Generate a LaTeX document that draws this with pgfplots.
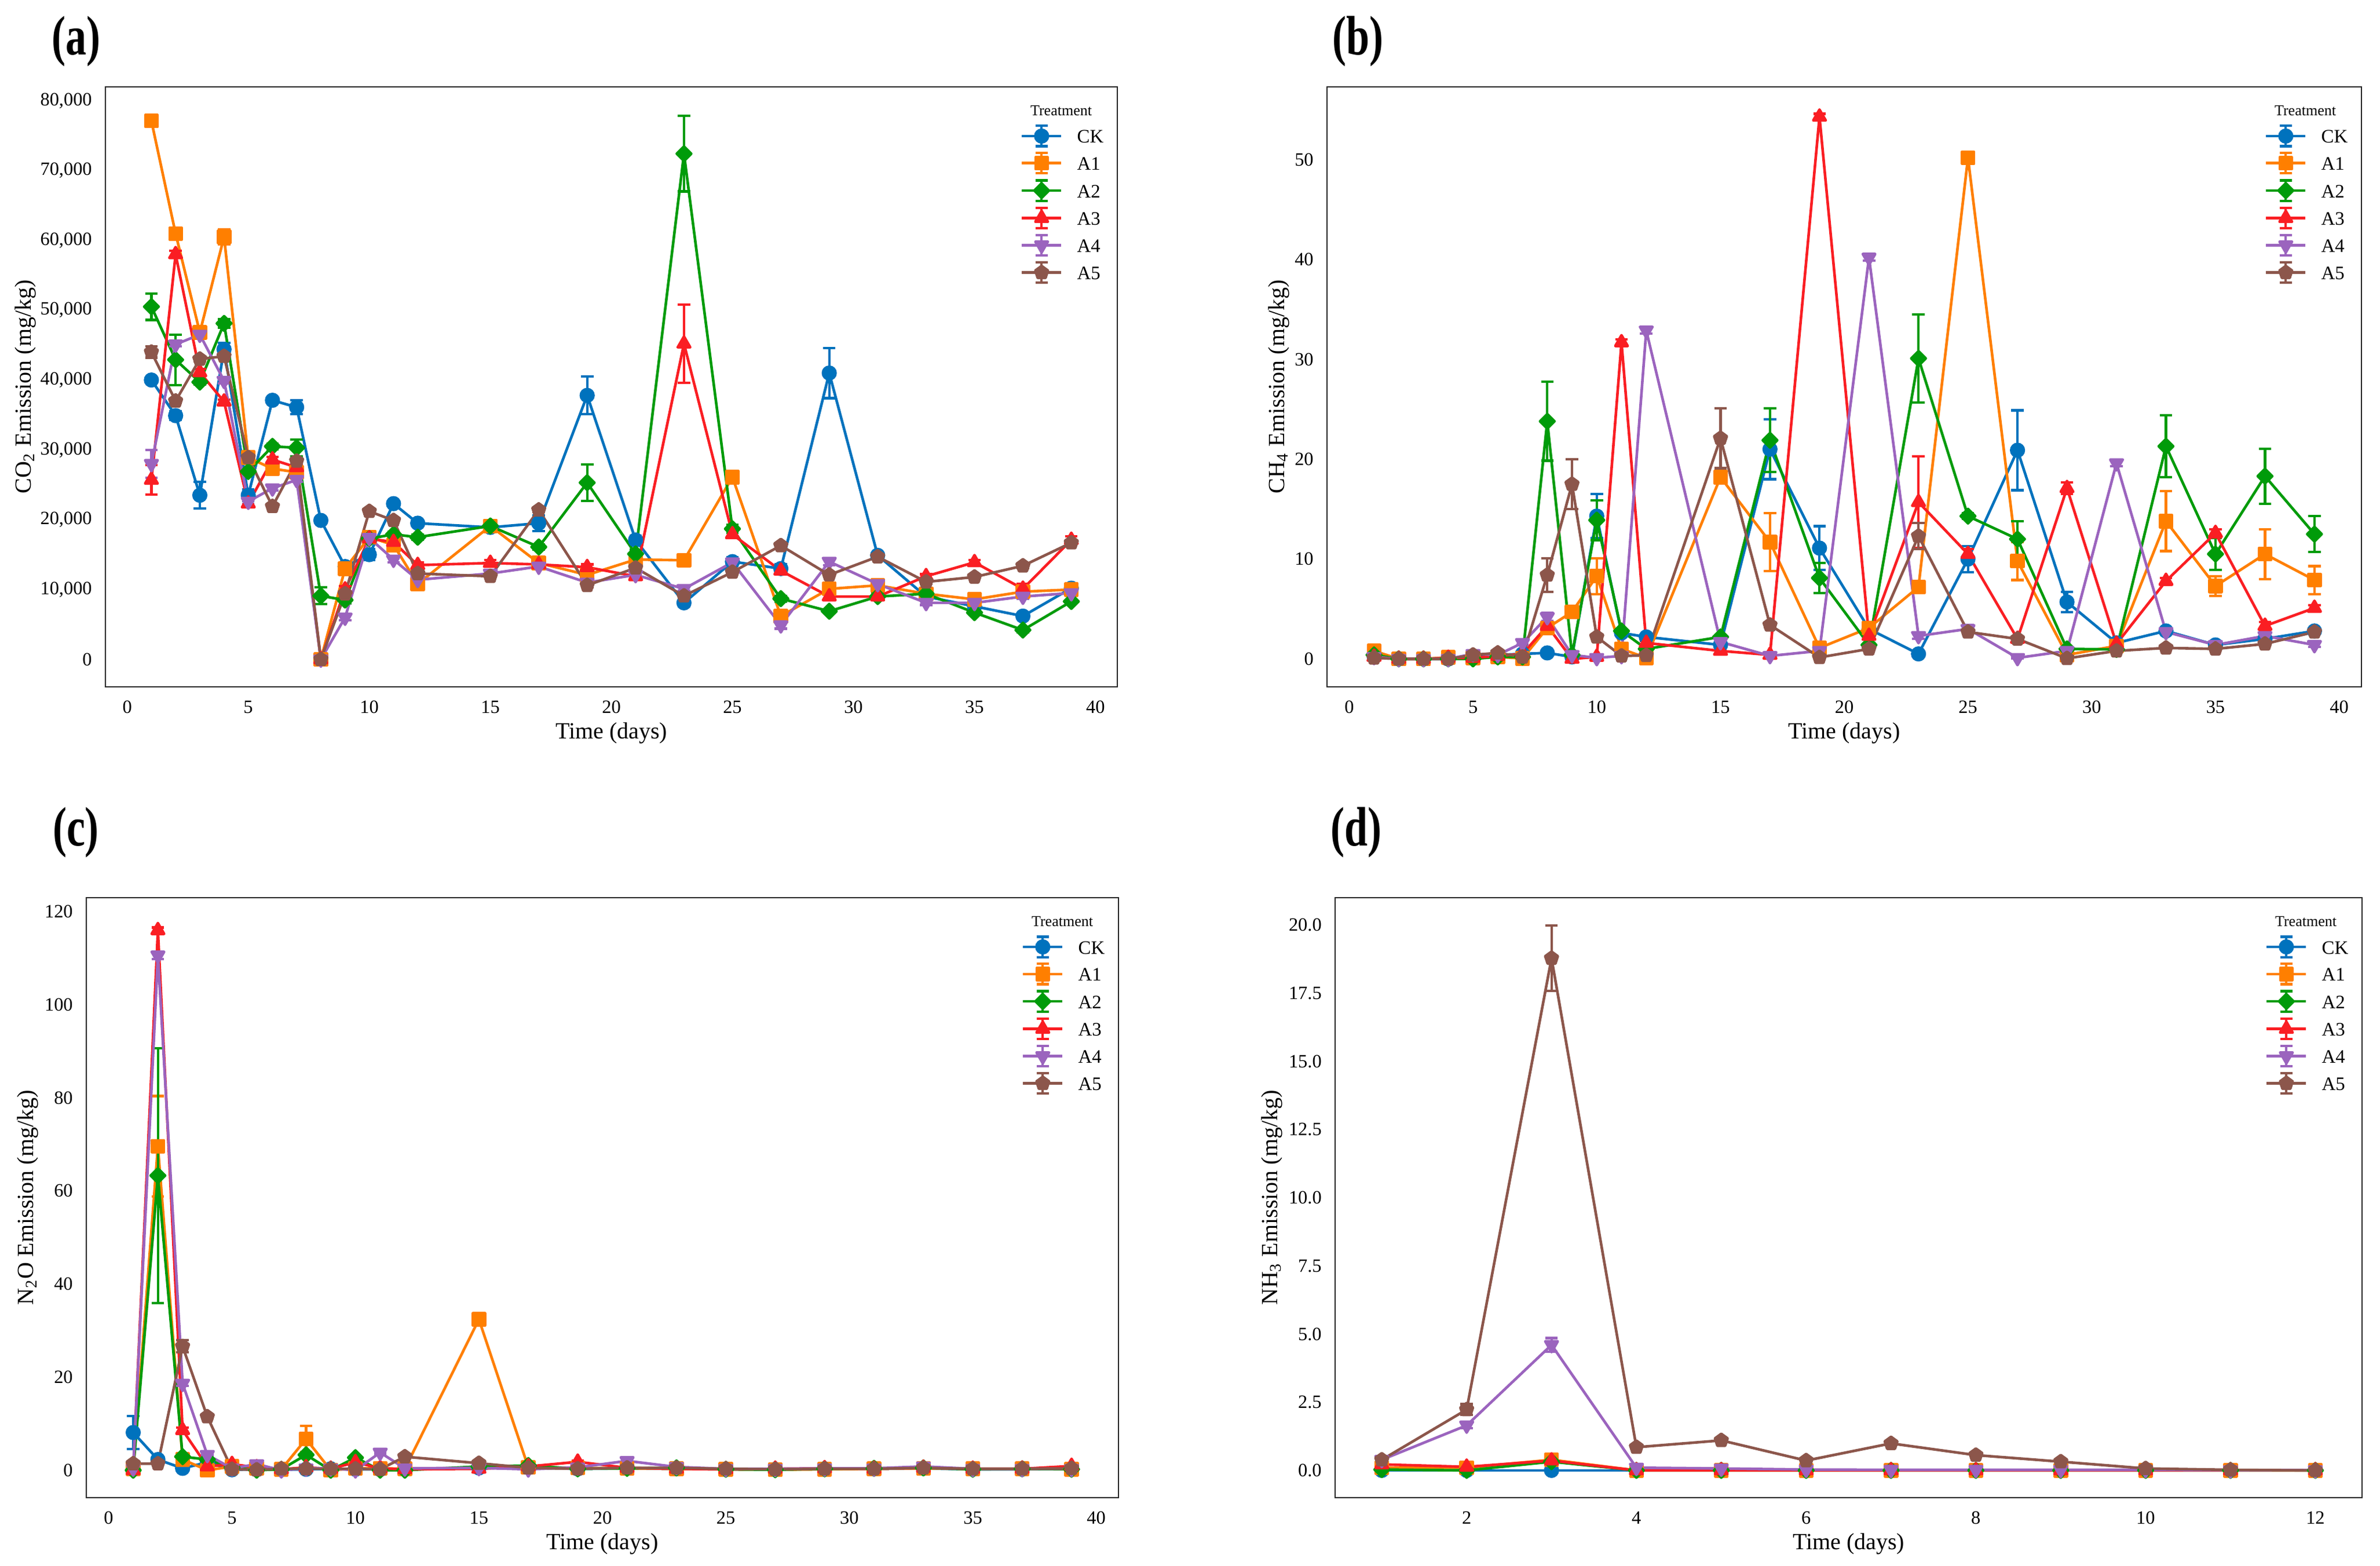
\documentclass[border=0pt]{standalone}
\usepackage{fontspec}
\setmainfont{Liberation Serif}
\newfontfamily\panelfont{Liberation Serif}[FakeStretch=0.75]
\usepackage{pgfplots}
\usepackage{pgfplotstable}
\pgfplotsset{compat=1.18}

\definecolor{cCK}{RGB}{0,114,189}
\definecolor{cA1}{RGB}{255,127,0}
\definecolor{cA2}{RGB}{0,155,10}
\definecolor{cA3}{RGB}{250,30,35}
\definecolor{cA4}{RGB}{155,100,190}
\definecolor{cA5}{RGB}{140,86,75}

\pgfplotstableread{
d CK CKe A1 A1e A2 A2e A3 A3e A4 A4e A5 A5e
1 40000 500 77100 700 50500 1900 25700 2100 28000 2000 44000 800
2 34900 600 60950 600 42900 3600 58000 500 45100 300 37000 300
3 23500 1900 46800 900 39700 300 41100 500 46500 500 43000 300
4 44400 950 60500 1100 48100 600 36900 300 39900 400 43400 300
5 23500 800 28900 500 26900 400 22300 500 22600 300 28900 300
6 37100 500 27300 400 30500 400 28600 400 24500 300 21900 300
7 36100 1000 26800 400 30300 1200 27500 400 25700 300 28400 300
8 19900 400 0 100 9100 1200 0 100 0 100 0 100
9 13300 400 13000 400 8500 500 10000 500 6000 400 9400 300
10 15000 800 17500 600 17300 400 17300 400 17400 400 21200 300
11 22300 300 16400 600 17900 400 16800 500 14300 400 19900 300
12 19500 300 10800 800 17500 400 13500 400 11400 300 12300 300
15 18900 600 19100 500 19100 400 13800 400 12300 300 11900 300
17 19500 1100 13800 400 16100 400 13600 300 13300 300 21400 300
19 37800 2700 12100 300 25300 2600 13200 400 11000 300 10600 300
21 17100 600 14300 300 15100 600 11900 300 12100 300 13100 300
23 8100 500 14200 300 72400 5400 45200 5600 10100 300 9100 300
25 14000 600 26100 400 18700 600 17900 500 13900 300 12500 300
27 13000 600 6200 300 8700 400 12700 400 4900 500 16300 300
29 41000 3600 10100 300 6900 300 9000 300 14000 500 12100 300
31 14900 400 10600 300 9000 400 9000 300 10800 300 14700 300
33 9000 300 9400 300 9400 300 11900 300 8100 300 11100 300
35 7600 300 8600 300 6700 300 13900 300 8100 300 11800 300
37 6200 300 9700 300 4200 300 10100 750 9000 300 13400 300
39 10200 400 10000 300 8300 300 17100 500 9500 300 16700 300
}\tabA

\pgfplotstableread{
d CK CKe A1 A1e A2 A2e A3 A3e A4 A4e A5 A5e
1 0.3 0.1 0.8 0.2 0.4 0.1 0.2 0.1 0.2 0.1 0.1 0.1
2 0 0.05 0 0.05 0 0.05 0 0.05 0 0.05 0 0.05
3 0 0.05 0 0.05 0 0.05 0 0.05 0 0.05 0 0.05
4 0 0.05 0.15 0.05 0 0.05 0.1 0.05 0 0.05 0 0.05
5 0.2 0.1 0.1 0.05 0 0.05 0.1 0.05 0.5 0.1 0.4 0.1
6 0.4 0.1 0.2 0.05 0.2 0.05 0.3 0.1 0.4 0.1 0.6 0.1
7 0.5 0.1 0.05 0.05 0.2 0.05 0.5 0.1 1.6 0.2 0.2 0.1
8 0.6 0.1 3.1 0.3 23.8 3.95 3.3 0.4 4.2 0.4 8.4 1.7
9 0.2 0.1 4.7 0.3 0.4 0.1 0 0.05 0.4 0.1 17.5 2.5
10 14.3 2.2 8.3 1.8 13.9 2.0 0.2 0.1 0.1 0.05 2.2 0.2
11 2.6 0.2 1.0 0.2 2.8 0.2 31.7 0.3 0.3 0.1 0.3 0.1
12 2.2 0.2 0.1 0.05 1.0 0.2 1.6 0.2 32.9 0.3 0.35 0.1
15 1.4 0.2 18.2 0.3 2.2 0.2 0.8 0.1 1.7 0.2 22.1 3.0
17 21.0 3.0 11.7 2.9 21.9 3.2 0.4 0.1 0.3 0.1 3.4 0.2
19 11.1 2.2 1.1 0.2 8.1 1.5 54.3 0.3 0.8 0.1 0.15 0.1
21 3.0 0.3 3.1 0.3 1.4 0.2 2.3 0.2 40.2 0.3 1.0 0.1
23 0.5 0.1 7.2 0.3 30.1 4.4 15.7 4.6 2.3 0.3 12.3 1.3
25 10.0 1.3 50.2 0.3 14.3 0.3 10.5 0.5 3.0 0.4 2.7 0.2
27 20.9 4.0 9.8 1.9 12.0 1.8 2.0 0.2 0.1 0.05 2.0 0.2
29 5.7 1.0 0.4 0.1 1.0 0.2 17.1 0.6 0.8 0.1 0.05 0.05
31 1.6 0.2 1.3 0.2 0.95 0.2 1.5 0.2 19.6 0.3 0.8 0.1
33 2.8 0.2 13.8 3.0 21.3 3.1 7.8 0.3 2.7 0.2 1.1 0.1
35 1.4 0.2 7.3 1.0 10.5 1.6 12.6 0.4 1.4 0.2 1.0 0.1
37 2.0 0.2 10.5 2.5 18.3 2.75 3.3 0.4 2.3 0.2 1.5 0.1
39 2.8 0.2 7.9 1.4 12.5 1.8 5.1 0.3 1.4 0.2 2.7 0.2
}\tabB

\pgfplotstableread{
d CK CKe A1 A1e A2 A2e A3 A3e A4 A4e A5 A5e
1 8.1 3.5 0.3 0.2 0.0 0.2 0.0 0.2 0.4 0.2 1.4 0.2
2 2.3 0.3 69.6 10.8 63.3 27.4 116.0 0.6 110.6 0.8 1.4 0.2
3 0.4 0.2 2.3 0.3 2.9 0.3 8.6 0.6 18.6 0.5 26.6 1.3
4 1.7 0.2 0.0 0.2 2.3 0.3 0.8 0.2 3.3 0.3 11.5 0.3
5 0.1 0.1 0.8 0.2 0.6 0.2 1.3 0.2 0.4 0.2 0.2 0.1
6 0.2 0.1 0.4 0.2 0.0 0.1 0.6 0.2 1.3 0.2 0.1 0.1
7 0.1 0.1 0.2 0.1 0.2 0.1 0.2 0.1 0.0 0.1 0.3 0.1
8 0.2 0.1 6.7 2.8 3.3 0.3 0.6 0.2 0.4 0.2 0.3 0.1
9 0.3 0.1 0.0 0.1 0.0 0.1 0.3 0.1 0.4 0.1 0.3 0.1
10 0.2 0.1 0.4 0.1 2.7 0.3 1.7 0.2 0.0 0.1 0.3 0.1
11 0.2 0.1 0.4 0.1 0.0 0.1 0.4 0.1 3.8 0.3 0.2 0.1
12 0.2 0.1 0.3 0.1 0.0 0.1 0.2 0.1 0.4 0.1 2.9 0.2
15 0.5 0.1 32.4 0.5 0.8 0.1 0.3 0.1 0.5 0.1 1.5 0.2
17 0.6 0.1 0.6 0.1 1.0 0.2 0.8 0.1 0.2 0.1 0.5 0.1
19 0.3 0.1 0.5 0.1 0.3 0.1 1.8 0.2 0.6 0.1 0.3 0.1
21 0.4 0.1 0.4 0.1 0.4 0.1 0.5 0.1 2.0 0.2 0.5 0.1
23 0.3 0.1 0.3 0.1 0.5 0.1 0.3 0.1 0.7 0.1 0.5 0.1
25 0.2 0.1 0.2 0.1 0.2 0.1 0.2 0.1 0.3 0.1 0.3 0.1
27 0.2 0.1 0.1 0.1 0.1 0.1 0.3 0.1 0.3 0.1 0.2 0.1
29 0.3 0.1 0.2 0.1 0.3 0.1 0.4 0.1 0.4 0.1 0.3 0.1
31 0.3 0.1 0.3 0.1 0.4 0.1 0.3 0.1 0.4 0.1 0.3 0.1
33 0.4 0.1 0.4 0.1 0.5 0.1 0.5 0.1 0.8 0.1 0.5 0.1
35 0.2 0.1 0.3 0.1 0.2 0.1 0.3 0.1 0.3 0.1 0.3 0.1
37 0.2 0.1 0.3 0.1 0.3 0.1 0.3 0.1 0.3 0.1 0.3 0.1
39 0.3 0.1 0.2 0.1 0.2 0.1 0.9 0.2 0.3 0.1 0.4 0.1
}\tabC

\pgfplotstableread{
d CK CKe A1 A1e A2 A2e A3 A3e A4 A4e A5 A5e
1 0.0 0.02 0.10 0.02 0.03 0.02 0.22 0.03 0.39 0.05 0.39 0.05
2 0.0 0.02 0.10 0.02 0.00 0.02 0.13 0.03 1.65 0.10 2.23 0.20
3 0.0 0.02 0.39 0.05 0.32 0.05 0.36 0.05 4.60 0.25 18.78 1.20
4 0.0 0.01 0.0 0.01 0.0 0.01 0.0 0.01 0.10 0.02 0.85 0.05
5 0.0 0.01 0.0 0.01 0.0 0.01 0.0 0.01 0.07 0.02 1.10 0.05
6 0.0 0.01 0.0 0.01 0.0 0.01 0.0 0.01 0.03 0.01 0.36 0.03
7 0.0 0.01 0.0 0.01 0.0 0.01 0.0 0.01 0.02 0.01 0.99 0.05
8 0.0 0.01 0.0 0.01 0.0 0.01 0.0 0.01 0.02 0.01 0.56 0.03
9 0.0 0.01 0.0 0.01 0.0 0.01 0.0 0.01 0.02 0.01 0.32 0.03
10 0.0 0.01 0.0 0.01 0.0 0.01 0.0 0.01 0.02 0.01 0.07 0.01
11 0.0 0.01 0.0 0.01 0.0 0.01 0.0 0.01 0.01 0.01 0.02 0.01
12 0.0 0.01 0.0 0.01 0.0 0.01 0.0 0.01 0.01 0.01 0.00 0.01
}\tabD

\pgfplotsset{
  sCK/.style={color=cCK, mark=*, mark size=2.7pt},
  sA1/.style={color=cA1, mark=square*, mark size=2.6pt},
  sA2/.style={color=cA2, mark=square*, mark size=2.2pt, mark options={rotate=45}},
  sA3/.style={color=cA3, mark=triangle*, mark size=3.1pt},
  sA4/.style={color=cA4, mark=triangle*, mark size=3.1pt, mark options={rotate=180}},
  sA5/.style={color=cA5, mark=pentagon*, mark size=2.85pt},
  panel/.style={
    scale only axis, height=259pt,
    axis line style={black!85, line width=0.6pt},
    major tick length=0pt,
    tick label style={font=\fontsize{8.1}{9.7}\selectfont},
    label style={font=\fontsize{10}{12}\selectfont},
    /pgf/number format/assume math mode=true,
    xticklabel shift=2.55pt, yticklabel shift=2.3pt,
    xlabel={Time (days)},
    xlabel style={at={(axis description cs:0.5,0)}, anchor=north, yshift=-15.2pt, inner sep=0pt},
    error bars/y dir=both, error bars/y explicit,
    error bars/error mark=-,
    error bars/error mark options={rotate=90, mark size=2.7pt, line width=1.05pt},
    error bars/error bar style={line width=1.05pt},
    every axis plot/.append style={line width=1.15pt, line join=round},
    legend image code/.code={%
      \draw[#1, mark=none, overlay, line width=1.05pt] (8.5pt,-4.4pt) -- (8.5pt,4.4pt)
         (5.8pt,4.4pt) -- (11.2pt,4.4pt) (5.8pt,-4.4pt) -- (11.2pt,-4.4pt);
      \draw[mark repeat=2, mark phase=2, #1] plot coordinates {(0pt,0pt) (8.5pt,0pt) (17pt,0pt)};
    },
    legend style={draw=none, fill=none, at={(1,1)}, anchor=north west,
      xshift=-41.75pt, yshift=-18.25pt, inner sep=0pt, outer sep=0pt,
      row sep=5.7pt, column sep=6.25pt, font=\fontsize{8.2}{9.8}\selectfont,
      nodes={inner sep=0pt, text height=6pt, text depth=0pt}, cells={anchor=west}},
  },
}

\newcommand{\plotall}[1]{%
  \addplot[sCK] table[x=d, y=CK, y error=CKe] {#1};
  \addplot[sA1] table[x=d, y=A1, y error=A1e] {#1};
  \addplot[sA2] table[x=d, y=A2, y error=A2e] {#1};
  \addplot[sA3] table[x=d, y=A3, y error=A3e] {#1};
  \addplot[sA4] table[x=d, y=A4, y error=A4e] {#1};
  \addplot[sA5] table[x=d, y=A5, y error=A5e] {#1};
  \legend{CK,A1,A2,A3,A4,A5}
  \node[font=\fontsize{6.5}{7.8}\selectfont, inner sep=0pt, xshift=-24.25pt, yshift=-10.25pt] at (axis description cs:1,1) {Treatment};
}

\begin{document}
\begin{tikzpicture}
\path[use as bounding box] (0,0) rectangle (1027.25pt,675.75pt);

\begin{axis}[panel, at={(45.5pt,379.25pt)}, anchor=south west, width=436.75pt,
  xmin=-0.9, xmax=40.9, ymin=-3930, ymax=81970,
  xtick={0,5,...,40}, ytick={0,10000,...,80000}, scaled y ticks=false,
  yticklabel style={/pgf/number format/.cd, fixed, 1000 sep={,}},
  ylabel={CO\textsubscript{2} Emission (mg/kg)},
  ylabel style={at={(axis description cs:-0.0681,0.5)}, anchor=south, inner sep=0pt}]
\plotall{\tabA}
\end{axis}

\begin{axis}[panel, at={(572.75pt,379.25pt)}, anchor=south west, width=446.5pt,
  xmin=-0.9, xmax=40.9, ymin=-2.8, ymax=57.3,
  xtick={0,5,...,40}, ytick={0,10,...,50},
  ylabel={CH\textsubscript{4} Emission (mg/kg)},
  ylabel style={at={(axis description cs:-0.0361,0.5)}, anchor=south, inner sep=0pt}]
\plotall{\tabB}
\end{axis}

\begin{axis}[panel, at={(37.25pt,29.25pt)}, anchor=south west, width=445.5pt,
  xmin=-0.9, xmax=40.9, ymin=-5.9, ymax=123,
  xtick={0,5,...,40}, ytick={0,20,...,120},
  ylabel={N\textsubscript{2}O Emission (mg/kg)},
  ylabel style={at={(axis description cs:-0.0463,0.5)}, anchor=south, inner sep=0pt}]
\plotall{\tabC}
\end{axis}

\begin{axis}[panel, at={(576.25pt,29.25pt)}, anchor=south west, width=443.25pt,
  xmin=0.45, xmax=12.55, ymin=-1.0, ymax=21.0,
  xtick={2,4,...,12}, ytick={0,2.5,...,20},
  yticklabel style={/pgf/number format/.cd, fixed, fixed zerofill, precision=1},
  ylabel={NH\textsubscript{3} Emission (mg/kg)},
  ylabel style={at={(axis description cs:-0.0510,0.5)}, anchor=south, inner sep=0pt}]
\plotall{\tabD}
\end{axis}

\node[font=\panelfont\bfseries\fontsize{24}{24}\selectfont, anchor=base, inner sep=0pt] at (32.75pt,652pt) {(a)};
\node[font=\panelfont\bfseries\fontsize{24}{24}\selectfont, anchor=base, inner sep=0pt] at (586pt,652pt) {(b)};
\node[font=\panelfont\bfseries\fontsize{24}{24}\selectfont, anchor=base, inner sep=0pt] at (32.75pt,310.75pt) {(c)};
\node[font=\panelfont\bfseries\fontsize{24}{24}\selectfont, anchor=base, inner sep=0pt] at (585.25pt,310.75pt) {(d)};
\end{tikzpicture}
\end{document}
